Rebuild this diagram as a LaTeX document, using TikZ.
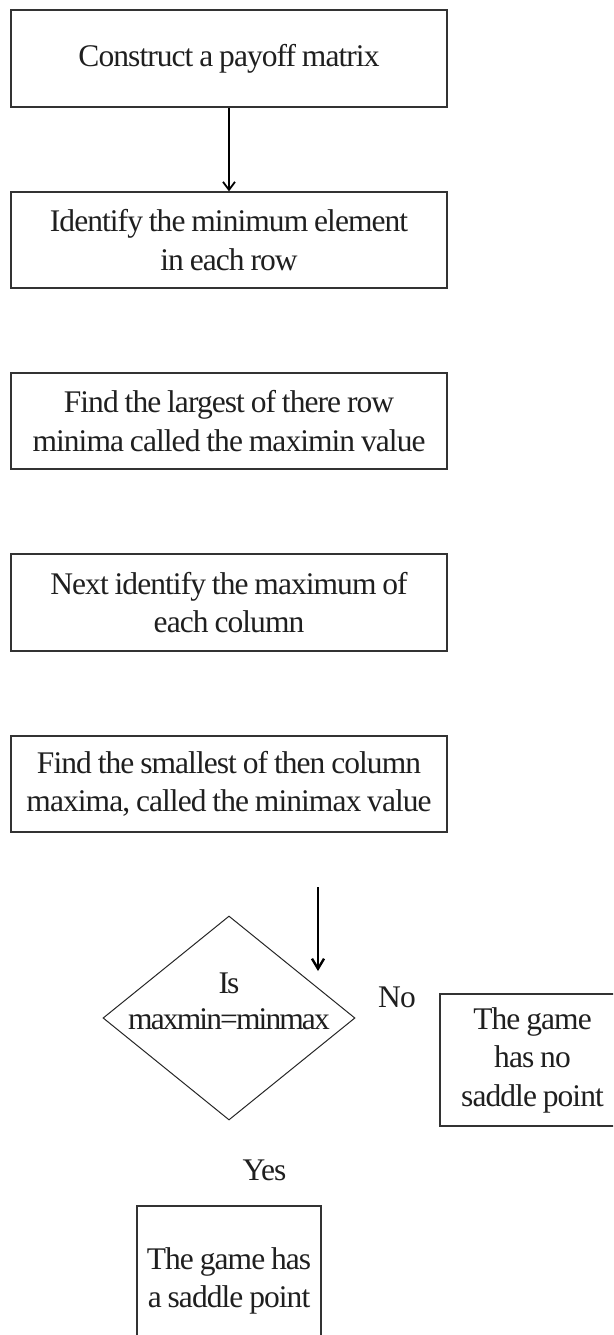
\documentclass[tikz,border=0pt]{standalone}
\usepackage{fontspec}
\setmainfont{Liberation Serif}
\newfontfamily\flowfont[LetterSpace=-3,WordSpace=0.85]{Liberation Serif}
\newfontfamily\tightfont[LetterSpace=-6]{Liberation Serif}
\usetikzlibrary{arrows.meta,shapes.geometric}

\tikzset{
  x=1pt, y=1pt,
  flowtext/.style={font=\flowfont\fontsize{31.5}{38.5}\selectfont, text=black!88, align=center, inner sep=0pt},
  stepbox/.style={flowtext, draw=black!80, line width=1.3pt, minimum width=436pt, minimum height=96pt},
  endbox/.style={flowtext, draw=black!80, line width=1.3pt},
  decision/.style={diamond, draw=black!85, line width=1pt, minimum width=252pt, minimum height=204pt, inner sep=0pt},
  decisiontext/.style={flowtext, font=\tightfont\fontsize{31.5}{36}\selectfont},
  flowarrow/.style={draw=black, line width=1.6pt, -{Straight Barb[length=8pt,width=12pt,line width=1.8pt]}},
  heavyarrow/.style={draw=black, line width=2.4pt, -{Straight Barb[length=10pt,width=12pt,line width=2.4pt]}},
  branchlabel/.style={flowtext}
}

\begin{document}
\begin{tikzpicture}
  \useasboundingbox (0,0) rectangle (613,-1335);
  \clip (0,0) rectangle (613,-1335);

  % main sequence of steps
  \node[stepbox, minimum height=97pt] (payoff) at (229,-58.5) {Construct a payoff matrix};
  \node[stepbox] (rowmin) at (229,-240) {Identify the minimum element\\in each row};
  \node[stepbox] (maximin) at (229,-421) {Find the largest of there row\\minima called the maximin value};
  \node[stepbox, minimum height=97pt] (colmax) at (229,-602.5) {Next identify the maximum of\\each column};
  \node[stepbox] (minimax) at (229,-784) {Find the smallest of then column\\maxima, called the minimax value};

  \draw[flowarrow] (payoff.south) -- (rowmin.north);

  % decision
  \node[decision] (test) at (229,-1018) {};
  \node[decisiontext] (testtext) at (229,-1001) {Is\\maxmin=minmax};

  \coordinate (arrowtop) at (318,-887);
  \coordinate (arrowtip) at (318,-971);
  \draw[heavyarrow] (arrowtop) -- (arrowtip);

  % outcomes
  \node[branchlabel, anchor=base] (nolabel) at (397,-1007) {No};
  \node[endbox, minimum width=185pt, minimum height=132pt] (nosaddle) at (532.5,-1060) {The game\\has no\\saddle point};

  \node[branchlabel, anchor=base] (yeslabel) at (264.5,-1180) {Yes};
  \node[endbox, minimum width=184pt, minimum height=150pt] (saddle) at (229,-1281) {The game has\\a saddle point};
\end{tikzpicture}
\end{document}
